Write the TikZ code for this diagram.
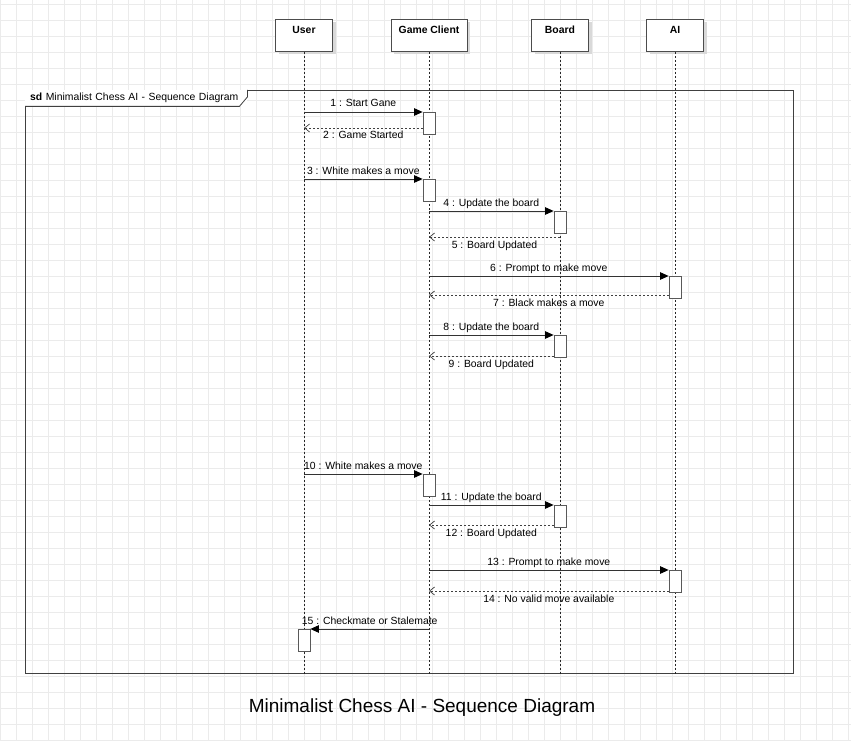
\documentclass[tikz,border=0pt]{standalone}
\usepackage{fontspec}
\setmainfont{Liberation Sans}
\usetikzlibrary{arrows.meta,shadows}

\begin{document}
\begin{tikzpicture}[
  x=1pt,y=-1pt,
  grid line/.style={draw=black!8,line width=0.6pt},
  head/.style={draw=black!70,fill=white,line width=0.8pt,minimum width=57pt,minimum height=32pt,inner sep=0pt,text height=14pt,text depth=18pt,anchor=north,font=\fontsize{10.4}{12}\selectfont\bfseries,drop shadow={shadow xshift=3pt,shadow yshift=-3pt,fill=black!15,opacity=1}},
  lifeline/.style={draw=black!85,line width=0.6pt,dash pattern=on 2pt off 2pt},
  bar/.style={draw=black!65,fill=white,line width=0.8pt,minimum width=12pt,minimum height=22pt,inner sep=0pt,anchor=north},
  call/.style={draw=black!80,line width=0.8pt,-{Triangle[length=8.5pt,width=7.5pt,color=black,fill=black]}},
  reply/.style={draw=black!75,line width=0.7pt,dash pattern=on 2pt off 2pt,-{Straight Barb[length=5pt,width=8pt]}},
  msg/.style={font=\fontsize{10.4}{12}\selectfont,inner sep=0pt,anchor=base,midway},
  above msg/.style={msg,yshift=5pt},
  below msg/.style={msg,yshift=-11pt}
]
  \useasboundingbox (0,0) rectangle (851,741);
  \fill[white] (0,0) rectangle (851,741);
  \foreach \gx in {0.5,16.5,...,848.5} \draw[grid line] (\gx,0) -- (\gx,741);
  \foreach \gy in {4.5,20.5,...,740.5} \draw[grid line] (0,\gy) -- (851,\gy);

  \node[head] (user) at (304,19) {User};
  \node[head,minimum width=76pt] (game-client) at (429,19) {Game Client};
  \node[head] (board) at (560,19) {Board};
  \node[head] (ai) at (675,19) {AI};

  \node[draw=black!75,line width=0.8pt,minimum width=768pt,minimum height=583pt,inner sep=0pt,anchor=north west] (frame) at (25,90) {};
  \foreach \who in {user,game-client,board,ai}
    \draw[lifeline] (\who.south) -- (\who |- frame.south);

  \node[fill=white,font=\fontsize{10.4}{12}\selectfont,anchor=north west,minimum height=16pt,text width=212pt,inner xsep=5pt,inner ysep=0pt,align=left] (frame-tab) at (frame.north west) {\textbf{sd} Minimalist Chess AI - Sequence Diagram};
  \draw[draw=black!75,line width=0.8pt] (frame-tab.north east) -- ([yshift=-7pt]frame-tab.north east) -- ([xshift=-8pt]frame-tab.south east) -- (frame-tab.south west);

  \node[bar] (bar-1) at (429,112) {};
  \node[bar] (bar-3) at (429,179) {};
  \node[bar] (bar-4) at (560,211) {};
  \node[bar] (bar-6) at (675,276) {};
  \node[bar] (bar-8) at (560,335) {};
  \node[bar] (bar-10) at (429,474) {};
  \node[bar] (bar-11) at (560,505) {};
  \node[bar] (bar-13) at (675,570) {};
  \node[bar] (bar-15) at (304,629) {};

  \coordinate (back-2) at ([yshift=-16pt]bar-1.north west);
  \coordinate (back-5) at ([yshift=-26pt]bar-4.north);
  \coordinate (back-7) at ([yshift=-19pt]bar-6.north west);
  \coordinate (back-9) at ([yshift=-21pt]bar-8.north west);
  \coordinate (back-12) at ([yshift=-20pt]bar-11.north west);
  \coordinate (back-14) at ([yshift=-21pt]bar-13.north west);

  \draw[call] (user |- bar-1.north) -- (bar-1.north west) node[above msg] {1 : Start Gane};
  \draw[reply] (back-2) -- (back-2 -| user) node[below msg] {2 : Game Started};
  \draw[call] (user |- bar-3.north) -- (bar-3.north west) node[above msg] {3 : White makes a move};
  \draw[call] (game-client |- bar-4.north) -- (bar-4.north west) node[above msg] {4 : Update the board};
  \draw[reply] (back-5) -- (back-5 -| game-client) node[below msg] {5 : Board Updated};
  \draw[call] (game-client |- bar-6.north) -- (bar-6.north west) node[above msg] {6 : Prompt to make move};
  \draw[reply] (back-7) -- (back-7 -| game-client) node[below msg] {7 : Black makes a move};
  \draw[call] (game-client |- bar-8.north) -- (bar-8.north west) node[above msg] {8 : Update the board};
  \draw[reply] (back-9) -- (back-9 -| game-client) node[below msg] {9 : Board Updated};
  \draw[call] (user |- bar-10.north) -- (bar-10.north west) node[above msg] {10 : White makes a move};
  \draw[call] (game-client |- bar-11.north) -- (bar-11.north west) node[above msg] {11 : Update the board};
  \draw[reply] (back-12) -- (back-12 -| game-client) node[below msg] {12 : Board Updated};
  \draw[call] (game-client |- bar-13.north) -- (bar-13.north west) node[above msg] {13 : Prompt to make move};
  \draw[reply] (back-14) -- (back-14 -| game-client) node[below msg] {14 : No valid move available};
  \draw[call] (game-client |- bar-15.north) -- (bar-15.north east) node[above msg] {15 : Checkmate or Stalemate};

  \node[font=\fontsize{19}{23}\selectfont,anchor=base] (title) at (422,712) {Minimalist Chess AI - Sequence Diagram};
\end{tikzpicture}
\end{document}
